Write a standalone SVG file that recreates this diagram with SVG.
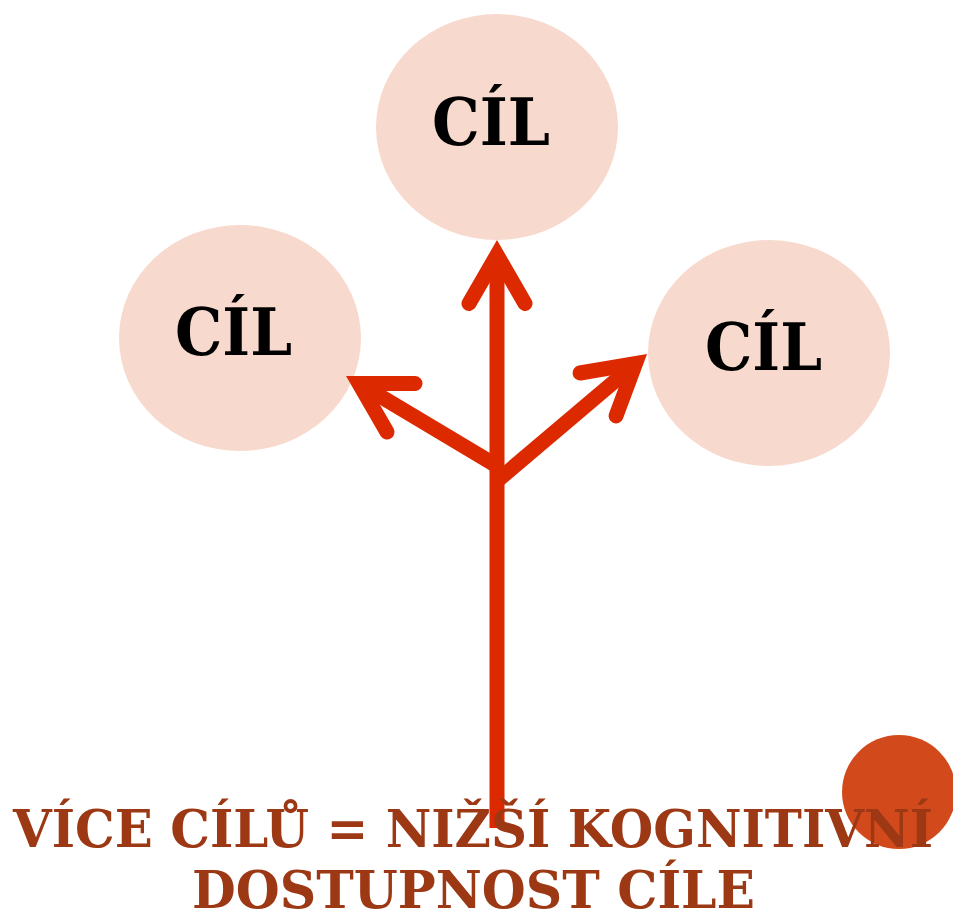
<svg xmlns="http://www.w3.org/2000/svg" width="953" height="912" viewBox="0 0 953 912">
  <style>
    .goal { fill: #F8D9CD; }
    .goal-label { font-family: "DejaVu Serif", "Liberation Serif", serif; font-weight: bold; font-size: 66px; fill: #000000; }
    .stem { fill: none; stroke: #DD2900; stroke-width: 15; stroke-linecap: butt; }
    .head { fill: none; stroke: #DD2900; stroke-width: 15; stroke-linecap: round; stroke-linejoin: miter; stroke-miterlimit: 4; }
    .caption { font-family: "DejaVu Serif", "Liberation Serif", serif; font-weight: bold; font-size: 53px; fill: #9D3815; }
  </style>

  <rect width="953" height="912" fill="#FFFFFF"/>

  <!-- goal nodes -->
  <g id="goal-top">
    <ellipse class="goal" cx="497" cy="127" rx="121" ry="113"/>
    <text class="goal-label" x="432" y="145" textLength="118" lengthAdjust="spacingAndGlyphs">CÍL</text>
  </g>
  <g id="goal-left">
    <ellipse class="goal" cx="240" cy="338" rx="121" ry="113"/>
    <text class="goal-label" x="175" y="355" textLength="117" lengthAdjust="spacingAndGlyphs">CÍL</text>
  </g>
  <g id="goal-right">
    <ellipse class="goal" cx="769" cy="353" rx="121" ry="113"/>
    <text class="goal-label" x="705" y="370" textLength="117" lengthAdjust="spacingAndGlyphs">CÍL</text>
  </g>

  <!-- decorative accent dot -->
  <circle cx="899" cy="792" r="57" fill="#D24A1C"/>

  <!-- branching arrows -->
  <g id="connectors">
    <line class="stem" x1="497" y1="828" x2="497" y2="256"/>
    <polyline class="head" points="469,303.5 497,255 525,303.5"/>

    <line class="stem" x1="497" y1="466" x2="359" y2="383.5"/>
    <polyline class="head" points="415,383.5 359,383.5 387,432"/>

    <line class="stem" x1="497" y1="481" x2="635.5" y2="363.6"/>
    <polyline class="head" points="580,373 635.5,363.6 616,416"/>
  </g>

  <!-- caption -->
  <g id="caption">
    <text class="caption" x="13" y="847" textLength="920" lengthAdjust="spacingAndGlyphs">VÍCE CÍLŮ = NIŽŠÍ KOGNITIVNÍ</text>
    <text class="caption" x="192" y="908" textLength="563" lengthAdjust="spacingAndGlyphs">DOSTUPNOST CÍLE</text>
  </g>
</svg>
